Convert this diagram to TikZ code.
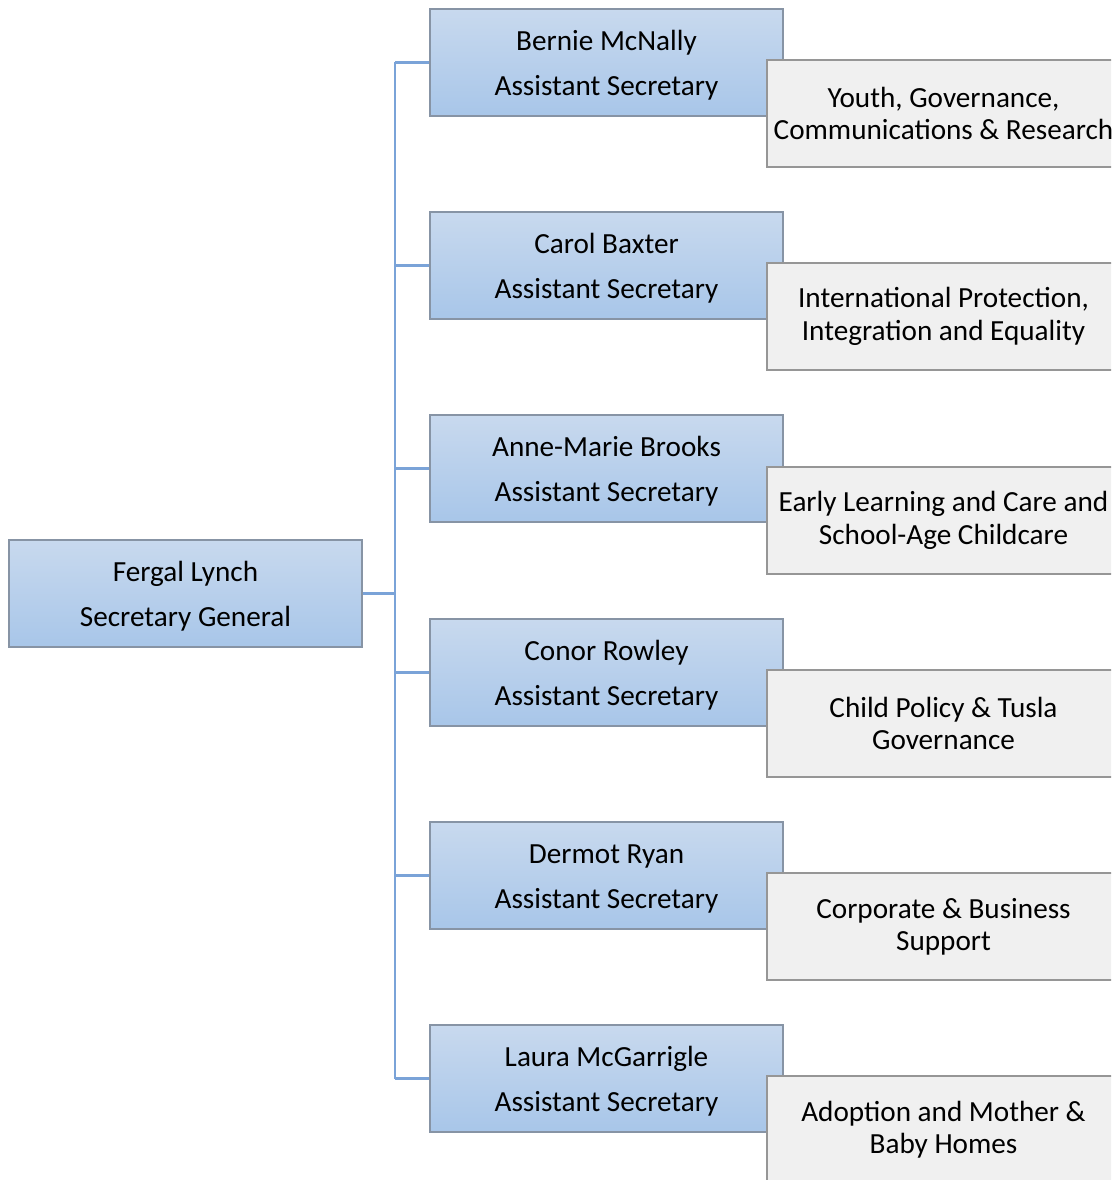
\documentclass[tikz,border=0pt]{standalone}
\usepackage{fontspec}
\setmainfont{Carlito}
\definecolor{boxtop}{RGB}{200,217,238}
\definecolor{boxbot}{RGB}{168,198,233}
\definecolor{boxedge}{RGB}{135,148,165}
\definecolor{greyfill}{RGB}{240,240,240}
\definecolor{greyedge}{RGB}{150,150,150}
\definecolor{connline}{RGB}{122,163,216}
\newcommand{\twoline}[2]{\rule{0pt}{19.1pt}#1\\#2}
\tikzset{
  person/.style={rectangle, draw=boxedge, line width=0.9pt, top color=boxtop, bottom color=boxbot,
    minimum width=264.75pt, minimum height=80.25pt, inner sep=0pt, align=flush center,
    font=\fontsize{21.9}{33.75}\selectfont},
  unit/.style={rectangle, draw=greyedge, line width=0.9pt, fill=greyfill,
    minimum width=264.75pt, minimum height=80.25pt, inner xsep=4.5pt, inner ysep=0pt,
    text width=255.75pt, align=flush center, font=\fontsize{21.9}{24.3}\selectfont},
  conn/.style={draw=connline, line width=1.7pt}
}
\begin{document}
\begin{tikzpicture}[x=0.75pt,y=-0.75pt]
\clip (0,0) rectangle (1111,1180);
\fill[white] (0,0) rectangle (1111,1180);
\node[person] (root) at (185.5,593.5) {\twoline{Fergal Lynch}{Secretary General}};
\node[person] (a1) at (606.5,62.5) {\twoline{Bernie McNally}{Assistant Secretary}};
\node[person] (a2) at (606.5,265.5) {\twoline{Carol Baxter}{Assistant Secretary}};
\node[person] (a3) at (606.5,468.5) {\twoline{Anne-Marie Brooks}{Assistant Secretary}};
\node[person] (a4) at (606.5,672.5) {\twoline{Conor Rowley}{Assistant Secretary}};
\node[person] (a5) at (606.5,875.5) {\twoline{Dermot Ryan}{Assistant Secretary}};
\node[person] (a6) at (606.5,1078.5) {\twoline{Laura McGarrigle}{Assistant Secretary}};
\node[unit] (u1) at (943.5,113.5) {Youth, Governance,\\\mbox{Communications \& Research}};
\node[unit] (u2) at (943.5,316.5) {International Protection,\\Integration and Equality};
\node[unit] (u3) at (943.5,520.5) {\mbox{Early Learning and Care and}\\School-Age Childcare};
\node[unit] (u4) at (943.5,723.5) {Child Policy \& Tusla\\Governance};
\node[unit] (u5) at (943.5,926.5) {Corporate \& Business\\Support};
\node[unit] (u6) at (943.5,1129.5) {Adoption and Mother \&\\Baby Homes};
\coordinate (j) at (395,593.5);
\draw[conn] (root.east) -- (j);
\draw[conn] (a1.west -| j) -- (a6.west -| j);
\foreach \i in {1,...,6} {
  \draw[conn] (j |- a\i.west) -- (a\i.west);
}
\end{tikzpicture}
\end{document}
